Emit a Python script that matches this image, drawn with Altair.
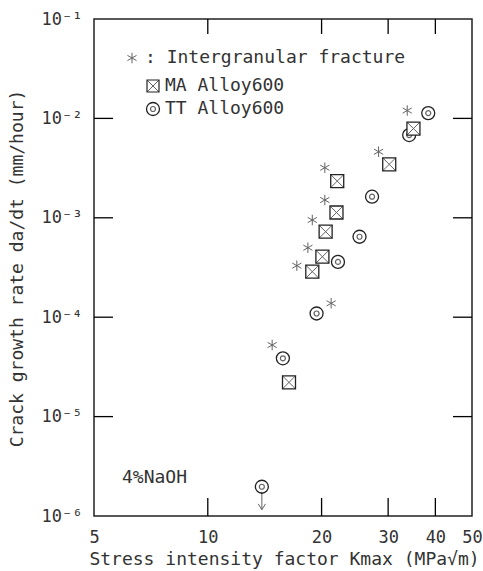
import altair as alt
import pandas as pd

# ---- data ----
tt_K = [38.3, 34.1, 27.2, 25.2, 22.1, 19.4, 15.8, 13.9]
tt_rate = [1.13e-2, 6.8e-3, 1.63e-3, 6.45e-4, 3.6e-4, 1.09e-4, 3.86e-5, 1.97e-6]

ma_K = [35.0, 30.2, 22.0, 21.9, 20.5, 20.1, 18.9, 16.4]
ma_rate = [7.9e-3, 3.45e-3, 2.34e-3, 1.13e-3, 7.25e-4, 4.06e-4, 2.87e-4, 2.21e-5]

ig_K = [33.7, 28.3, 20.4, 20.4, 18.9, 18.4, 17.2, 21.2, 14.8]
ig_rate = [1.2e-2, 4.62e-3, 3.19e-3, 1.51e-3, 9.5e-4, 5.0e-4, 3.3e-4, 1.38e-4, 5.25e-5]

# point below detection limit (arrow)
arrow_K = [13.9]
arrow_rate = [1.97e-6]

x_ticks = [5, 10, 20, 30, 40, 50]
x_inner_ticks = [10, 20, 30, 40]
y_ticks = [1e-1, 1e-2, 1e-3, 1e-4, 1e-5, 1e-6]
y_inner_ticks = [1e-2, 1e-3, 1e-4, 1e-5]

legend_labels = [": Intergranular fracture", "MA Alloy600", "TT Alloy600"]
note_text = "4%NaOH"

FONT = "DejaVu Sans Mono"
INK = "#222222"
TICK = "black"
TXT = "#333333"
W, H = 378, 497

xscale = alt.Scale(type="log", domain=[5, 50], nice=False)
yscale = alt.Scale(type="log", domain=[1e-6, 1e-1], nice=False)

tt = pd.DataFrame({"K": tt_K, "rate": tt_rate})
ma = pd.DataFrame({"K": ma_K, "rate": ma_rate})
ig = pd.DataFrame({"K": ig_K, "rate": ig_rate})
ar = pd.DataFrame({"K": arrow_K, "rate": arrow_rate})
xt = pd.DataFrame({"K": x_inner_ticks})
yt = pd.DataFrame({"rate": y_inner_ticks})

X = alt.X("K:Q", scale=xscale, axis=alt.Axis(
    values=x_ticks, ticks=False, domain=False, grid=False,
    labelFont=FONT, labelFontSize=17, labelColor=TXT, labelPadding=13,
    labelFlush=False,
    title="Stress intensity factor Kmax (MPa√m)", titleFont=FONT,
    titleFontSize=18, titleFontWeight="normal", titleColor=TXT,
    titleX=190, titleY=43, titleAlign="center", titleBaseline="middle"))
Y = alt.Y("rate:Q", scale=yscale, axis=alt.Axis(
    values=y_ticks, ticks=False, domain=False, grid=False,
    labelExpr="'10' + ['⁰','⁻¹','⁻²','⁻³','⁻⁴','⁻⁵','⁻⁶'][-round(log(datum.value)/LN10)]",
    labelFont=FONT, labelFontSize=17, labelColor=TXT, labelPadding=12,
    labelFlush=False,
    title="Crack growth rate da/dt (mm/hour)", titleFont=FONT,
    titleFontSize=18, titleFontWeight="normal", titleColor=TXT,
    titleX=-77, titleY=249, titleAngle=270, titleAlign="center",
    titleBaseline="middle"))

Xn = alt.X("K:Q", scale=xscale)
Yn = alt.Y("rate:Q", scale=yscale)

base = alt.Chart(tt).mark_point(opacity=0).encode(x=X, y=Y)

HBAR = "M-1,0L1,0"
VBAR = "M0,-1L0,1"

# inward ticks, anchored on the frame edges through the scales
tick_left = alt.Chart(yt).mark_point(shape=HBAR, size=361, filled=False,
    stroke=TICK, strokeWidth=1.3, opacity=1, xOffset=9.5).encode(
    y=Yn, x=alt.datum(5))
tick_right = alt.Chart(yt).mark_point(shape=HBAR, size=361, filled=False,
    stroke=TICK, strokeWidth=1.3, opacity=1, xOffset=-9.5).encode(
    y=Yn, x=alt.datum(50))
tick_bottom = alt.Chart(xt).mark_point(shape=VBAR, size=324, filled=False,
    stroke=TICK, strokeWidth=1.3, opacity=1, yOffset=-9).encode(
    x=Xn, y=alt.datum(1e-6))
tick_top = alt.Chart(xt).mark_point(shape=VBAR, size=225, filled=False,
    stroke=TICK, strokeWidth=1.3, opacity=1, yOffset=7.5).encode(
    x=Xn, y=alt.datum(1e-1))

CROSS = "M-1,-1L1,1M-1,1L1,-1"
AST = "M0,-1L0,1M-0.87,-0.5L0.87,0.5M-0.87,0.5L0.87,-0.5"
ARROW = "M0,-1L0,1M-0.4,0.35L0,1L0.4,0.35"

tt_outer = alt.Chart(tt).mark_point(shape="circle", size=169, filled=True,
    fill="white", stroke=INK, strokeWidth=1.3, opacity=1).encode(x=Xn, y=Yn)
tt_inner = alt.Chart(tt).mark_point(shape="circle", size=25, filled=False,
    stroke=INK, strokeWidth=1.2).encode(x=Xn, y=Yn)

ma_sq = alt.Chart(ma).mark_point(shape="square", size=169, filled=True,
    fill="white", stroke=INK, strokeWidth=1.3, opacity=1).encode(x=Xn, y=Yn)
ma_x = alt.Chart(ma).mark_point(shape=CROSS, size=169, filled=False,
    stroke=INK, strokeWidth=1.0).encode(x=Xn, y=Yn)

ig_pts = alt.Chart(ig).mark_point(shape=AST, size=110, filled=False,
    stroke=INK, strokeWidth=1.0).encode(x=Xn, y=Yn)

arrow = alt.Chart(ar).mark_point(shape=ARROW, size=324, filled=False,
    stroke=INK, strokeWidth=1.0, yOffset=14).encode(x=Xn, y=Yn)

# legend (manual)
leg_y = [39, 67, 90]
leg_x_text = [51, 71, 71]
leg_texts = [
    alt.Chart(pd.DataFrame({"label": [lab]})).mark_text(
        font=FONT, fontSize=18, align="left", baseline="middle", color=TXT
    ).encode(text="label:N", x=alt.value(xx), y=alt.value(yy))
    for lab, xx, yy in zip(legend_labels, leg_x_text, leg_y)
]
one = pd.DataFrame({"a": [0]})
leg_ast = alt.Chart(one).mark_point(shape=AST, size=110, filled=False,
    stroke=INK, strokeWidth=1.0).encode(x=alt.value(38), y=alt.value(leg_y[0]))
leg_sq = alt.Chart(one).mark_point(shape="square", size=144, filled=False,
    stroke=INK, strokeWidth=1.2, opacity=1).encode(x=alt.value(59), y=alt.value(leg_y[1]))
leg_x = alt.Chart(one).mark_point(shape=CROSS, size=144, filled=False,
    stroke=INK, strokeWidth=1.0).encode(x=alt.value(59), y=alt.value(leg_y[1]))
leg_co = alt.Chart(one).mark_point(shape="circle", size=169, filled=False,
    stroke=INK, strokeWidth=1.3, opacity=1).encode(x=alt.value(59), y=alt.value(leg_y[2]))
leg_ci = alt.Chart(one).mark_point(shape="circle", size=25, filled=False,
    stroke=INK, strokeWidth=1.2).encode(x=alt.value(59), y=alt.value(leg_y[2]))

note = alt.Chart(pd.DataFrame({"t": [note_text]})).mark_text(
    font=FONT, fontSize=18, align="left", baseline="middle", color=TXT
).encode(text="t:N", x=alt.value(28), y=alt.value(459))

chart = alt.layer(
    base,
    tt_outer, tt_inner, ma_sq, ma_x, ig_pts, arrow,
    *leg_texts, leg_ast, leg_sq, leg_x, leg_co, leg_ci, note,
    tick_left, tick_right, tick_bottom, tick_top,
).properties(
    width=W, height=H,
    autosize=alt.AutoSizeParams(type="none"),
    padding={"left": 94, "top": 19, "right": 11, "bottom": 55},
    background="white",
).configure_view(stroke=INK, strokeWidth=1.5)

chart.save("out.html", embed_options={"renderer": "svg", "actions": False})
